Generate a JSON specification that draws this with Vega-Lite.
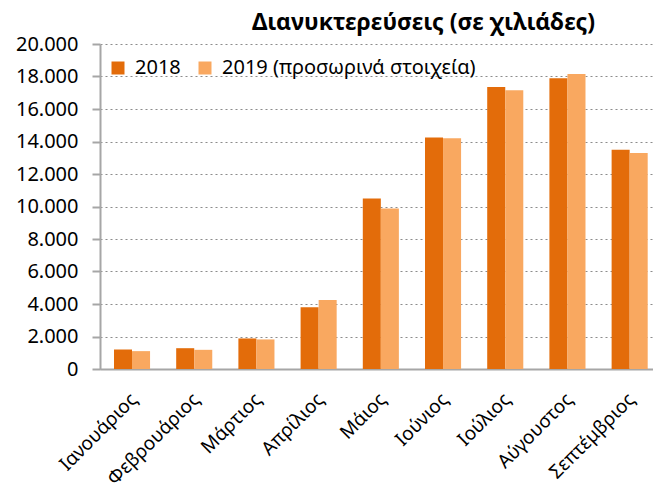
{
  "$schema": "https://vega.github.io/schema/vega-lite/v6.json",
  "width": 553,
  "height": 325,
  "autosize": {"type": "none"},
  "padding": {"left": 100, "top": 44, "right": 0, "bottom": 124},
  "config": {
    "locale": {"number": {"decimal": ",", "thousands": ".", "grouping": [3], "currency": ["", " €"]}},
    "font": "Noto Sans",
    "view": {"stroke": null}
  },
  "title": {
    "text": "Διανυκτερεύσεις (σε χιλιάδες)",
    "font": "Noto Sans",
    "fontSize": 23,
    "fontWeight": "bold",
    "color": "#000000",
    "anchor": "middle",
    "frame": "group",
    "baseline": "alphabetic",
    "offset": 12,
    "dx": 47,
    "dy": 31
  },
  "data": {
    "values": [
      {"month": "Ιανουάριος", "series": "2018", "value": 1200},
      {"month": "Ιανουάριος", "series": "2019 (προσωρινά στοιχεία)", "value": 1100},
      {"month": "Φεβρουάριος", "series": "2018", "value": 1280},
      {"month": "Φεβρουάριος", "series": "2019 (προσωρινά στοιχεία)", "value": 1180},
      {"month": "Μάρτιος", "series": "2018", "value": 1880},
      {"month": "Μάρτιος", "series": "2019 (προσωρινά στοιχεία)", "value": 1820},
      {"month": "Απρίλιος", "series": "2018", "value": 3800},
      {"month": "Απρίλιος", "series": "2019 (προσωρινά στοιχεία)", "value": 4250},
      {"month": "Μάιος", "series": "2018", "value": 10500},
      {"month": "Μάιος", "series": "2019 (προσωρινά στοιχεία)", "value": 9880},
      {"month": "Ιούνιος", "series": "2018", "value": 14250},
      {"month": "Ιούνιος", "series": "2019 (προσωρινά στοιχεία)", "value": 14200},
      {"month": "Ιούλιος", "series": "2018", "value": 17350},
      {"month": "Ιούλιος", "series": "2019 (προσωρινά στοιχεία)", "value": 17150},
      {"month": "Αύγουστος", "series": "2018", "value": 17900},
      {"month": "Αύγουστος", "series": "2019 (προσωρινά στοιχεία)", "value": 18150},
      {"month": "Σεπτέμβριος", "series": "2018", "value": 13500},
      {"month": "Σεπτέμβριος", "series": "2019 (προσωρινά στοιχεία)", "value": 13300}
    ]
  },
  "mark": {"type": "bar"},
  "encoding": {
    "x": {
      "field": "month",
      "type": "nominal",
      "sort": null,
      "scale": {"paddingInner": 0.42, "paddingOuter": 0.155, "align": 0.725},
      "axis": {
        "title": null,
        "labelAngle": -45,
        "labelAlign": "right",
        "labelBaseline": "middle",
        "labelFontSize": 19,
        "labelColor": "#000000",
        "labelPadding": 27,
        "labelOffset": 2,
        "labelLimit": 300,
        "ticks": false,
        "domainColor": "#A6A6A6",
        "domainWidth": 2
      }
    },
    "xOffset": {"field": "series", "type": "nominal", "sort": null},
    "y": {
      "field": "value",
      "type": "quantitative",
      "scale": {"domain": [0, 20000], "nice": false},
      "axis": {
        "title": null,
        "values": [0, 2000, 4000, 6000, 8000, 10000, 12000, 14000, 16000, 18000, 20000],
        "format": ",.0f",
        "labelFontSize": 20,
        "labelColor": "#000000",
        "labelPadding": 14,
        "tickSize": 8,
        "tickColor": "#A6A6A6",
        "tickWidth": 2,
        "domainColor": "#A6A6A6",
        "domainWidth": 2,
        "gridColor": "#8C8C8C",
        "gridDash": [2, 3],
        "gridWidth": 1.2
      }
    },
    "color": {
      "field": "series",
      "type": "nominal",
      "sort": null,
      "scale": {"domain": ["2018", "2019 (προσωρινά στοιχεία)"], "range": ["#E36C0A", "#F9A860"]},
      "legend": {
        "title": null,
        "orient": "none",
        "legendX": 8,
        "legendY": 14,
        "padding": 0,
        "direction": "horizontal",
        "symbolType": "square",
        "symbolSize": 169,
        "symbolStrokeWidth": 0,
        "labelFontSize": 20,
        "labelColor": "#000000",
        "labelLimit": 400,
        "columnPadding": 14,
        "labelOffset": 7
      }
    }
  }
}
